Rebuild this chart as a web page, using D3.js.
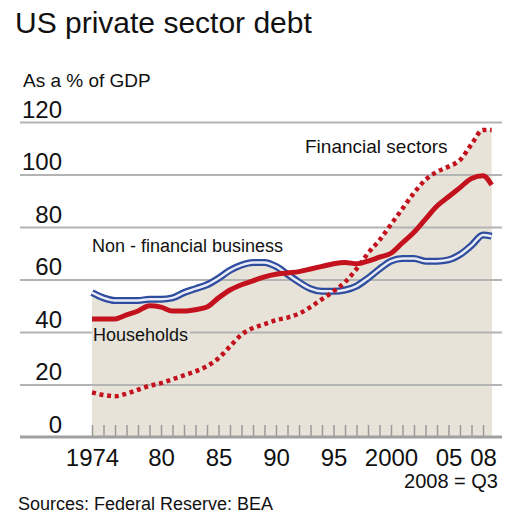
<!DOCTYPE html>
<html>
<head>
<meta charset="utf-8">
<script src="https://cdn.jsdelivr.net/npm/d3@7"></script>
<style>
  body { margin: 0; background: #fff; }
  text { font-family: "Liberation Sans", Arial, sans-serif; fill: #111; }
</style>
</head>
<body>
<svg id="chart"></svg>
<script>
// data (% of GDP), annual points plus 2008 Q3
var years = [1974, 1975, 1976, 1977, 1978, 1979, 1980, 1981, 1982, 1983, 1984,
             1985, 1986, 1987, 1988, 1989, 1990, 1991, 1992, 1993, 1994, 1995,
             1996, 1997, 1998, 1999, 2000, 2001, 2002, 2003, 2004, 2005, 2006,
             2007, 2008, 2008.75];
var households = [45, 45, 45, 46.5, 48, 50, 49.5, 48, 48, 48.5, 49.5,
                  53, 56, 58, 59.5, 61, 62, 62.5, 63, 64, 65, 66,
                  66.5, 66, 67, 68.5, 70, 74, 78, 83, 88, 91.5, 95,
                  98.5, 99.5, 96];
var nonFinancial = [55, 53, 52, 52, 52, 52.5, 52.5, 53, 55, 56.5, 58,
                    60.5, 63.5, 65.5, 66.5, 66.5, 65, 62, 59, 56.5, 55.5, 55.5,
                    56, 57.5, 60.5, 64, 67, 68, 68, 67, 67, 67.5, 69.5,
                    73, 77, 76.5];
var financial = [17, 16, 15.5, 16.5, 18, 19.5, 20.5, 22, 23.5, 25, 27,
                 30, 34.5, 39, 41.5, 43, 44.5, 45.5, 47, 49.5, 52.5, 55.5,
                 59, 64, 70, 75, 81, 87, 93, 98, 101, 103, 105.5,
                 111.5, 117, 117];

var yTicks = [0, 20, 40, 60, 80, 100, 120];
var xLabelYears = [1974, 1980, 1985, 1990, 1995, 2000, 2005, 2008];
var xLabels = ["1974", "80", "85", "90", "95", "2000", "05", "08"];

var width = 530, height = 520;
var red = "#c3121d", blue = "#2f4d9f", shade = "#e7e3d9";

var svg = d3.select("#chart").attr("width", width).attr("height", height);

var x = d3.scaleLinear().domain([1974, 2008]).range([92, 483]);
var y = d3.scaleLinear().domain([0, 120]).range([437, 122]);

// shaded area under the three series
[households, nonFinancial, financial].forEach(function(s) {
  var area = d3.area()
    .x(function(d, i) { return x(years[i]); })
    .y0(y(0))
    .y1(function(d) { return y(d); })
    .curve(d3.curveMonotoneX);
  svg.append("path").attr("d", area(s)).attr("fill", shade);
});

// gridlines
svg.append("g")
  .attr("transform", "translate(20,0)")
  .call(d3.axisRight(y).tickValues(yTicks.slice(1)).tickSize(482).tickFormat(""))
  .call(function(g) {
    g.select(".domain").remove();
    g.selectAll("line").attr("stroke", "#b4b4b4").attr("stroke-width", 2);
  });

// year ticks pointing up
svg.append("g")
  .attr("transform", "translate(0," + y(0) + ")")
  .call(d3.axisBottom(x).tickValues(d3.range(1974, 2009)).tickSizeInner(-12).tickSizeOuter(0).tickFormat(""))
  .call(function(g) {
    g.select(".domain").remove();
    g.selectAll("line").attr("stroke", "#9a9a9a").attr("stroke-width", 1.5);
  });

// baseline
svg.append("line")
  .attr("x1", 20).attr("x2", 502)
  .attr("y1", y(0)).attr("y2", y(0))
  .attr("stroke", "#a0a0a0").attr("stroke-width", 3);

// y labels, sitting above their gridlines
svg.append("g")
  .attr("transform", "translate(62,0)")
  .call(d3.axisLeft(y).tickValues(yTicks).tickSize(0).tickPadding(0))
  .call(function(g) {
    g.select(".domain").remove();
    g.selectAll("text")
      .attr("dy", "-0.2em")
      .attr("font-size", 24)
      .attr("font-family", "Liberation Sans, Arial, sans-serif")
      .attr("fill", "#111");
  });

// x labels
svg.append("g")
  .attr("transform", "translate(0," + y(0) + ")")
  .call(d3.axisBottom(x).tickValues(xLabelYears).tickSize(0).tickPadding(0)
    .tickFormat(function(d, i) { return xLabels[i]; }))
  .call(function(g) {
    g.select(".domain").remove();
    g.selectAll("text")
      .attr("dy", null)
      .attr("y", 29)
      .attr("font-size", 24)
      .attr("font-family", "Liberation Sans, Arial, sans-serif")
      .attr("fill", "#111");
  });

// lines
var line = d3.line()
  .x(function(d, i) { return x(years[i]); })
  .y(function(d) { return y(d); })
  .curve(d3.curveMonotoneX);

svg.append("path").attr("d", line(nonFinancial))
  .attr("fill", "none").attr("stroke", blue).attr("stroke-width", 7);
svg.append("path").attr("d", line(nonFinancial))
  .attr("fill", "none").attr("stroke", "#e9ecf6").attr("stroke-width", 2.5);

svg.append("path").attr("d", line(households))
  .attr("fill", "none").attr("stroke", red).attr("stroke-width", 5);

svg.append("path").attr("d", line(financial))
  .attr("fill", "none").attr("stroke", red).attr("stroke-width", 4.5)
  .attr("stroke-dasharray", "4,3.7");

// series labels
svg.append("rect")
  .attr("x", 92).attr("y", 325).attr("width", 98).attr("height", 20)
  .attr("fill", shade);
svg.append("text").attr("x", 93).attr("y", 341).attr("font-size", 18).text("Households");
svg.append("text").attr("x", 92).attr("y", 252).attr("font-size", 18).text("Non - financial business");
svg.append("text").attr("x", 305).attr("y", 153).attr("font-size", 19).text("Financial sectors");

// titles and notes
svg.append("text").attr("x", 15).attr("y", 33).attr("font-size", 30).text("US private sector debt");
svg.append("text").attr("x", 23).attr("y", 87).attr("font-size", 19).text("As a % of GDP");
svg.append("text").attr("x", 498).attr("y", 488).attr("font-size", 20)
  .attr("text-anchor", "end").text("2008 = Q3");
svg.append("text").attr("x", 18).attr("y", 510).attr("font-size", 18)
  .text("Sources: Federal Reserve: BEA");
</script>
</body>
</html>
